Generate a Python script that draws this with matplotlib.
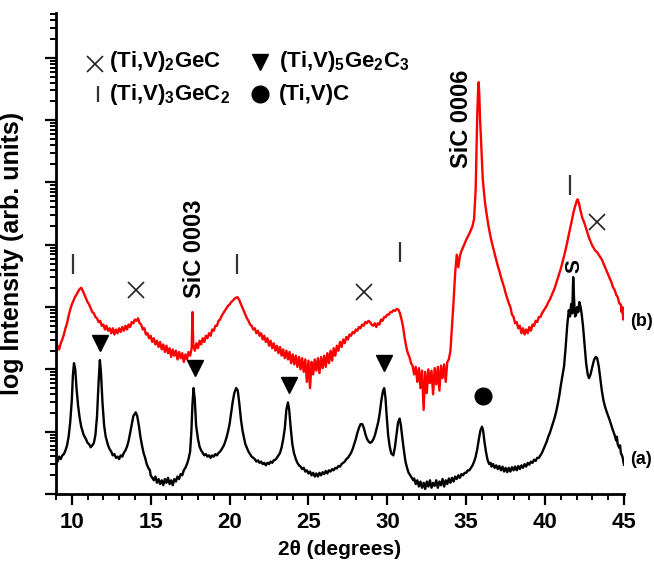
import numpy as np
import matplotlib
matplotlib.use("Agg")
import matplotlib.pyplot as plt
from matplotlib.ticker import LogLocator, NullFormatter, MultipleLocator

plt.rcParams['font.family'] = ['Liberation Sans', 'DejaVu Sans']
plt.rcParams['font.weight'] = 'bold'
plt.rcParams['mathtext.fontset'] = 'custom'
plt.rcParams['mathtext.rm'] = 'Liberation Sans:bold'
plt.rcParams['mathtext.bf'] = 'Liberation Sans:bold'
plt.rcParams['mathtext.it'] = 'Liberation Sans:bold'
plt.rcParams['mathtext.default'] = 'rm'

# ---- data: (2theta, log10 intensity) ----
curve_a = [
 (9.0,0.55),(9.1,0.52),(9.2,0.60),(9.3,0.56),(9.4,0.62),(9.5,0.64),(9.6,0.70),(9.7,0.78),(9.8,0.92),(9.9,1.15),
 (10.0,1.50),(10.07,1.90),(10.14,2.10),(10.22,2.00),(10.3,1.70),(10.4,1.42),(10.5,1.22),(10.6,1.08),(10.75,0.95),
 (10.9,0.88),(11.0,0.82),(11.1,0.80),(11.2,0.75),(11.3,0.78),(11.4,0.82),(11.5,0.95),(11.6,1.25),(11.7,1.80),
 (11.78,2.15),(11.85,1.95),(11.95,1.45),(12.05,1.10),(12.15,0.92),(12.3,0.78),(12.4,0.72),(12.5,0.68),(12.6,0.62),
 (12.7,0.64),(12.8,0.58),(12.9,0.60),(13.0,0.56),(13.1,0.62),(13.2,0.60),(13.3,0.66),(13.4,0.70),(13.5,0.76),
 (13.6,0.85),(13.7,0.98),(13.8,1.12),(13.9,1.25),(14.05,1.31),(14.15,1.25),(14.25,1.10),(14.35,0.92),(14.45,0.78),
 (14.55,0.66),(14.65,0.58),(14.75,0.48),(14.85,0.42),(14.95,0.38),(15.0,0.30),(15.1,0.26),(15.2,0.22),(15.3,0.28),
 (15.4,0.18),(15.5,0.24),(15.6,0.16),(15.7,0.22),(15.8,0.14),(15.9,0.24),(16.0,0.18),(16.1,0.26),(16.2,0.16),
 (16.3,0.22),(16.4,0.14),(16.5,0.24),(16.6,0.20),(16.7,0.28),(16.8,0.24),(16.9,0.32),(17.0,0.30),(17.1,0.38),
 (17.2,0.42),(17.3,0.48),(17.4,0.56),(17.5,0.68),(17.58,1.00),(17.65,1.45),(17.72,1.70),(17.8,1.50),(17.88,1.10),
 (18.0,0.88),(18.1,0.76),(18.2,0.70),(18.3,0.66),(18.4,0.62),(18.5,0.64),(18.6,0.60),(18.7,0.62),(18.8,0.58),
 (18.9,0.62),(19.0,0.60),(19.1,0.64),(19.2,0.62),(19.3,0.66),(19.4,0.68),(19.5,0.72),(19.6,0.76),(19.7,0.82),
 (19.8,0.90),(19.9,1.00),(20.0,1.12),(20.1,1.30),(20.2,1.48),(20.3,1.62),(20.42,1.70),(20.52,1.66),(20.62,1.45),
 (20.72,1.20),(20.82,1.02),(20.92,0.90),(21.0,0.80),(21.1,0.74),(21.2,0.68),(21.3,0.64),(21.4,0.60),(21.5,0.58),
 (21.6,0.56),(21.7,0.52),(21.8,0.54),(21.9,0.50),(22.0,0.52),(22.1,0.48),(22.2,0.50),(22.3,0.46),(22.4,0.50),
 (22.5,0.48),(22.6,0.52),(22.7,0.50),(22.8,0.54),(22.9,0.55),(23.0,0.58),(23.1,0.62),(23.2,0.66),(23.3,0.75),
 (23.4,0.88),(23.5,1.05),(23.6,1.35),(23.7,1.47),(23.78,1.35),(23.88,1.05),(23.98,0.80),(24.08,0.66),(24.2,0.56),
 (24.3,0.50),(24.4,0.46),(24.5,0.44),(24.6,0.40),(24.7,0.42),(24.8,0.36),(24.9,0.38),(25.0,0.33),(25.1,0.36),
 (25.2,0.30),(25.3,0.34),(25.4,0.28),(25.5,0.33),(25.6,0.28),(25.7,0.34),(25.8,0.30),(25.9,0.35),(26.0,0.32),
 (26.1,0.37),(26.2,0.33),(26.3,0.38),(26.4,0.36),(26.5,0.40),(26.6,0.38),(26.7,0.42),(26.8,0.41),(26.9,0.45),
 (27.0,0.44),(27.1,0.48),(27.2,0.50),(27.3,0.52),(27.4,0.56),(27.5,0.58),(27.6,0.62),(27.7,0.66),(27.8,0.72),
 (27.9,0.80),(28.0,0.88),(28.1,0.98),(28.2,1.06),(28.3,1.12),(28.42,1.12),(28.52,1.05),(28.62,0.95),(28.72,0.88),
 (28.82,0.84),(28.92,0.82),(29.02,0.84),(29.12,0.88),(29.22,0.95),(29.32,1.05),(29.42,1.15),(29.52,1.30),
 (29.62,1.50),(29.72,1.65),(29.8,1.70),(29.88,1.55),(29.96,1.25),(30.05,0.95),(30.15,0.76),(30.25,0.65),
 (30.38,0.62),(30.48,0.75),(30.58,0.95),(30.68,1.15),(30.78,1.21),(30.86,1.10),(30.95,0.90),(31.05,0.70),
 (31.15,0.52),(31.25,0.42),(31.35,0.34),(31.45,0.30),(31.55,0.26),(31.65,0.22),(31.7,0.25),(31.8,0.16),(31.9,0.22),
 (32.0,0.12),(32.1,0.20),(32.2,0.10),(32.3,0.18),(32.4,0.08),(32.5,0.20),(32.6,0.12),(32.7,0.22),(32.8,0.10),
 (32.9,0.18),(33.0,0.13),(33.1,0.22),(33.2,0.10),(33.3,0.20),(33.4,0.14),(33.5,0.24),(33.6,0.12),(33.7,0.22),
 (33.8,0.16),(33.9,0.25),(34.0,0.18),(34.1,0.26),(34.2,0.20),(34.3,0.28),(34.4,0.24),(34.5,0.30),(34.6,0.26),
 (34.7,0.32),(34.8,0.30),(34.9,0.34),(35.0,0.34),(35.1,0.38),(35.2,0.38),(35.3,0.42),(35.4,0.46),(35.5,0.52),
 (35.6,0.60),(35.7,0.72),(35.8,0.88),(35.9,1.02),(36.0,1.08),(36.07,1.02),(36.15,0.85),(36.25,0.68),(36.35,0.55),
 (36.45,0.48),(36.55,0.50),(36.6,0.44),(36.7,0.48),(36.8,0.42),(36.9,0.46),(37.0,0.40),(37.1,0.45),(37.2,0.38),
 (37.3,0.44),(37.4,0.36),(37.5,0.42),(37.6,0.35),(37.7,0.42),(37.8,0.36),(37.9,0.43),(38.0,0.38),(38.1,0.44),
 (38.2,0.38),(38.3,0.45),(38.4,0.40),(38.5,0.46),(38.6,0.42),(38.7,0.48),(38.8,0.44),(38.9,0.50),(39.0,0.47),
 (39.1,0.52),(39.2,0.50),(39.3,0.55),(39.4,0.53),(39.5,0.58),(39.6,0.58),(39.7,0.62),(39.8,0.66),(39.9,0.72),
 (40.0,0.78),(40.1,0.84),(40.2,0.92),(40.3,0.98),(40.4,1.06),(40.5,1.14),(40.6,1.22),(40.7,1.32),(40.8,1.44),
 (40.9,1.58),(41.0,1.75),(41.1,1.90),(41.2,2.05),(41.3,2.35),(41.4,2.70),(41.5,2.95),(41.58,2.85),(41.65,3.05),
 (41.72,2.90),(41.78,3.48),(41.84,3.10),(41.9,2.85),(41.97,2.88),(42.03,3.00),(42.1,2.92),(42.17,3.08),
 (42.25,3.00),(42.32,2.88),(42.4,2.70),(42.5,2.40),(42.6,2.10),(42.7,1.92),(42.78,1.86),(42.88,1.92),(43.0,2.05),
 (43.1,2.15),(43.2,2.20),(43.3,2.18),(43.4,2.05),(43.5,1.85),(43.6,1.65),(43.7,1.50),(43.8,1.40),(43.9,1.32),
 (44.0,1.25),(44.1,1.18),(44.2,1.10),(44.3,1.02),(44.4,0.95),(44.5,0.86),(44.55,0.92),(44.6,0.80),(44.7,0.74),
 (44.75,0.78),(44.8,0.66),(44.9,0.60),(45.0,0.47),
]

curve_b = [
 (9.0,2.71),(9.02,2.30),(9.1,2.38),(9.2,2.32),(9.3,2.42),(9.4,2.48),(9.5,2.56),(9.6,2.66),(9.7,2.74),(9.8,2.86),
 (9.9,2.96),(10.0,3.04),(10.1,3.10),(10.2,3.16),(10.3,3.20),(10.4,3.25),(10.5,3.29),(10.6,3.31),(10.7,3.26),
 (10.8,3.20),(10.9,3.14),(11.0,3.08),(11.1,3.04),(11.2,2.98),(11.3,2.92),(11.4,2.90),(11.5,2.84),(11.6,2.82),
 (11.7,2.76),(11.8,2.78),(11.9,2.70),(12.0,2.72),(12.1,2.64),(12.2,2.70),(12.3,2.62),(12.4,2.66),(12.5,2.58),
 (12.6,2.66),(12.7,2.56),(12.8,2.64),(12.9,2.58),(13.0,2.66),(13.1,2.60),(13.2,2.68),(13.3,2.62),(13.4,2.70),
 (13.5,2.64),(13.6,2.72),(13.7,2.68),(13.8,2.76),(13.9,2.74),(14.0,2.80),(14.1,2.78),(14.2,2.82),(14.3,2.74),
 (14.4,2.72),(14.5,2.64),(14.6,2.66),(14.7,2.56),(14.8,2.58),(14.9,2.50),(15.0,2.54),(15.1,2.44),(15.2,2.50),
 (15.3,2.40),(15.4,2.46),(15.5,2.36),(15.6,2.44),(15.7,2.32),(15.8,2.40),(15.9,2.28),(16.0,2.38),(16.1,2.26),
 (16.2,2.34),(16.3,2.20),(16.4,2.32),(16.5,2.22),(16.6,2.30),(16.7,2.16),(16.8,2.28),(16.9,2.18),(17.0,2.26),
 (17.1,2.12),(17.2,2.24),(17.3,2.16),(17.4,2.28),(17.5,2.22),(17.6,2.34),(17.65,2.92),(17.7,2.40),(17.8,2.30),
 (17.9,2.42),(18.0,2.34),(18.1,2.46),(18.2,2.40),(18.3,2.50),(18.4,2.44),(18.5,2.54),(18.6,2.50),(18.7,2.58),
 (18.8,2.54),(18.9,2.64),(19.0,2.62),(19.1,2.70),(19.2,2.70),(19.3,2.78),(19.4,2.80),(19.5,2.86),(19.6,2.90),
 (19.7,2.94),(19.8,2.98),(19.9,3.02),(20.0,3.04),(20.1,3.08),(20.2,3.10),(20.3,3.13),(20.4,3.15),(20.5,3.16),
 (20.6,3.12),(20.7,3.06),(20.8,3.00),(20.9,2.94),(21.0,2.88),(21.1,2.82),(21.2,2.78),(21.3,2.72),(21.4,2.70),
 (21.5,2.64),(21.6,2.66),(21.7,2.58),(21.8,2.62),(21.9,2.54),(22.0,2.58),(22.1,2.48),(22.2,2.54),(22.3,2.44),
 (22.4,2.50),(22.5,2.38),(22.6,2.46),(22.7,2.34),(22.8,2.42),(22.9,2.30),(23.0,2.38),(23.1,2.26),(23.2,2.36),
 (23.3,2.22),(23.4,2.32),(23.5,2.18),(23.6,2.30),(23.7,2.16),(23.8,2.28),(23.9,2.10),(24.0,2.24),(24.1,2.08),
 (24.2,2.22),(24.3,2.04),(24.4,2.20),(24.5,2.00),(24.6,2.18),(24.7,1.96),(24.8,2.16),(24.9,1.80),(25.0,2.14),
 (25.1,1.70),(25.2,2.12),(25.3,1.92),(25.4,2.16),(25.5,1.98),(25.6,2.18),(25.7,1.94),(25.8,2.20),(25.9,2.02),
 (26.0,2.22),(26.1,2.04),(26.2,2.26),(26.3,2.10),(26.4,2.30),(26.5,2.14),(26.6,2.34),(26.7,2.22),(26.8,2.38),
 (26.9,2.30),(27.0,2.44),(27.1,2.36),(27.2,2.48),(27.3,2.42),(27.4,2.52),(27.5,2.48),(27.6,2.56),(27.7,2.54),
 (27.8,2.60),(27.9,2.58),(28.0,2.64),(28.1,2.62),(28.2,2.68),(28.3,2.66),(28.4,2.72),(28.5,2.70),(28.6,2.76),
 (28.7,2.74),(28.8,2.78),(28.9,2.76),(29.0,2.72),(29.1,2.70),(29.2,2.74),(29.3,2.68),(29.4,2.74),(29.5,2.72),
 (29.6,2.80),(29.7,2.78),(29.8,2.84),(29.9,2.84),(30.0,2.88),(30.1,2.88),(30.2,2.92),(30.3,2.92),(30.4,2.95),
 (30.5,2.94),(30.6,2.97),(30.7,2.96),(30.8,2.90),(30.9,2.80),(31.0,2.68),(31.1,2.50),(31.2,2.36),(31.3,2.26),
 (31.4,2.20),(31.5,2.10),(31.6,2.06),(31.7,1.92),(31.8,2.04),(31.9,1.80),(32.0,2.02),(32.1,1.70),(32.2,1.98),
 (32.3,1.35),(32.4,1.96),(32.5,1.62),(32.6,2.00),(32.7,1.78),(32.8,1.98),(32.9,1.60),(33.0,2.02),(33.1,1.76),
 (33.2,2.04),(33.3,1.66),(33.4,2.06),(33.5,1.86),(33.6,2.08),(33.7,1.80),(33.8,2.12),(33.9,2.16),(34.0,2.30),
 (34.1,2.70),(34.2,3.10),(34.3,3.55),(34.4,3.84),(34.5,3.64),(34.6,3.82),(34.7,3.90),(34.8,3.96),(34.9,4.02),
 (35.0,4.08),(35.1,4.13),(35.2,4.18),(35.3,4.24),(35.4,4.30),(35.5,4.42),(35.6,4.90),(35.65,5.50),(35.7,6.10),
 (35.75,6.45),(35.79,6.61),(35.83,6.40),(35.88,6.00),(35.95,5.60),(36.0,5.30),(36.05,5.05),(36.13,4.83),
 (36.2,4.66),(36.3,4.48),(36.4,4.32),(36.5,4.18),(36.6,4.06),(36.7,3.96),(36.8,3.86),(36.9,3.76),(37.0,3.66),
 (37.1,3.58),(37.2,3.48),(37.3,3.40),(37.4,3.32),(37.5,3.22),(37.6,3.14),(37.7,3.06),(37.8,3.00),(37.9,2.88),
 (38.0,2.84),(38.1,2.74),(38.2,2.76),(38.3,2.66),(38.4,2.70),(38.5,2.58),(38.6,2.66),(38.7,2.56),(38.8,2.64),
 (38.9,2.58),(39.0,2.68),(39.1,2.62),(39.2,2.72),(39.3,2.70),(39.4,2.78),(39.5,2.76),(39.6,2.84),(39.7,2.84),
 (39.8,2.90),(39.9,2.94),(40.0,2.98),(40.1,3.02),(40.2,3.08),(40.3,3.12),(40.4,3.18),(40.5,3.24),(40.6,3.30),
 (40.7,3.38),(40.8,3.46),(40.9,3.54),(41.0,3.62),(41.1,3.72),(41.2,3.82),(41.3,3.92),(41.4,4.04),(41.5,4.16),
 (41.6,4.28),(41.7,4.40),(41.8,4.52),(41.9,4.62),(42.0,4.70),(42.06,4.73),(42.15,4.66),(42.25,4.54),(42.35,4.44),
 (42.5,4.34),(42.6,4.26),(42.7,4.18),(42.8,4.10),(42.9,4.04),(43.0,3.98),(43.1,3.94),(43.2,3.90),(43.3,3.88),
 (43.4,3.84),(43.5,3.80),(43.6,3.76),(43.7,3.70),(43.8,3.64),(43.9,3.58),(44.0,3.52),(44.1,3.46),(44.2,3.40),
 (44.3,3.32),(44.4,3.28),(44.5,3.20),(44.6,3.16),(44.7,3.06),(44.8,3.04),(44.85,2.92),(44.9,3.00),(44.95,2.80),
 (45.0,2.82),
]

# phase markers (2theta, log10 position)
mark_312 = [(10.1, 3.69), (20.5, 3.69), (30.8, 3.88), (41.6, 4.96)]     # (Ti,V)3GeC2  |
mark_211 = [(14.1, 3.27), (28.5, 3.24), (43.3, 4.37)]                  # (Ti,V)2GeC   x
mark_523 = [(11.8, 2.42), (17.8, 2.02), (23.75, 1.75), (29.8, 2.10)]   # (Ti,V)5Ge2C3 v
mark_tic = [(36.05, 1.57)]                                             # (Ti,V)C      o

x_ticks = [10, 15, 20, 25, 30, 35, 40, 45]

def split(c):
    a = np.array(c)
    return a[:, 0], 10 ** a[:, 1]

fig = plt.figure(figsize=(6.54, 5.64), dpi=100)
ax = fig.add_axes([56/654, 1-494/564, (624-56)/654, (494-13)/564])

xa, ya = split(curve_a)
xb, yb = split(curve_b)
ax.plot(xa, ya, color='black', lw=1.7)
ax.plot(xb, yb, color='#ff0000', lw=1.7)

ax.set_yscale('log')
ax.set_xlim(9, 45)
ax.set_ylim(1, 10 ** 7.72)

mx, my = split(mark_312)
ax.plot(mx, my, ls='none', marker='|', ms=15, mew=1.6, color='#333333')
mx, my = split(mark_211)
ax.plot(mx, my, ls='none', marker='x', ms=11, mew=1.2, color='#222222')
mx, my = split(mark_523)
ax.plot(mx, my, ls='none', marker='v', ms=12, color='black')
mx, my = split(mark_tic)
ax.plot(mx, my, ls='none', marker='o', ms=12, color='black')

# annotations
ax.text(17.78, 10 ** 3.93, 'SiC 0003', rotation=90, ha='center', va='center', fontsize=17, fontweight='bold')
ax.text(34.67, 10 ** 6.02, 'SiC 0006', rotation=90, ha='center', va='center', fontsize=17, fontweight='bold')
ax.text(41.85, 10 ** 3.66, 'S', rotation=90, ha='center', va='center', fontsize=15, fontweight='bold')
ax.text(1.011, (494-322)/481, '(b)', transform=ax.transAxes, ha='left', va='center', fontsize=13, fontweight='bold')
ax.text(1.011, (494-460)/481, '(a)', transform=ax.transAxes, ha='left', va='center', fontsize=13, fontweight='bold')

# legend block (figure pixel coords)
def fx(px): return px / 654
def fy(py): return 1 - py / 564
leg_fs = 16
fig.add_artist(plt.Line2D([fx(95)], [fy(64)], ls='none', marker='x', ms=11, mew=1.2, color='#222222'))
fig.text(fx(109), fy(67), '(Ti,V)$_2$GeC', fontsize=leg_fs, fontweight='bold', va='baseline', ha='left')
fig.add_artist(plt.Line2D([fx(260)], [fy(62)], ls='none', marker='v', ms=12, color='black'))
fig.text(fx(279), fy(67), '(Ti,V)$_5$Ge$_2$C$_3$', fontsize=leg_fs, fontweight='bold', va='baseline', ha='left')
fig.add_artist(plt.Line2D([fx(98)], [fy(94)], ls='none', marker='|', ms=12, mew=1.6, color='#333333'))
fig.text(fx(109), fy(100), '(Ti,V)$_3$GeC$_2$', fontsize=leg_fs, fontweight='bold', va='baseline', ha='left')
fig.add_artist(plt.Line2D([fx(260)], [fy(94)], ls='none', marker='o', ms=12, color='black'))
fig.text(fx(279), fy(100), '(Ti,V)C', fontsize=leg_fs, fontweight='bold', va='baseline', ha='left')

# axes styling
for s in ['top', 'right']:
    ax.spines[s].set_visible(False)
for s in ['left', 'bottom']:
    ax.spines[s].set_linewidth(2.0)
ax.set_xticks(x_ticks)
ax.xaxis.set_minor_locator(MultipleLocator(1))
ax.yaxis.set_major_locator(LogLocator(base=10, numticks=20))
ax.yaxis.set_minor_locator(LogLocator(base=10, subs=np.arange(2, 10), numticks=20))
ax.yaxis.set_major_formatter(NullFormatter())
ax.yaxis.set_minor_formatter(NullFormatter())
ax.tick_params(which='major', direction='out', length=8, width=1.6, labelsize=16, pad=5)
ax.tick_params(which='minor', direction='out', length=4.3, width=1.4)
for lbl in ax.get_xticklabels():
    lbl.set_fontweight('bold')

ax.set_xlabel('2θ (degrees)', fontsize=15, fontweight='bold', labelpad=5)
ax.set_ylabel('log Intensity (arb. units)', fontsize=18, fontweight='bold', labelpad=10)

fig.savefig('out.png', dpi=100)
